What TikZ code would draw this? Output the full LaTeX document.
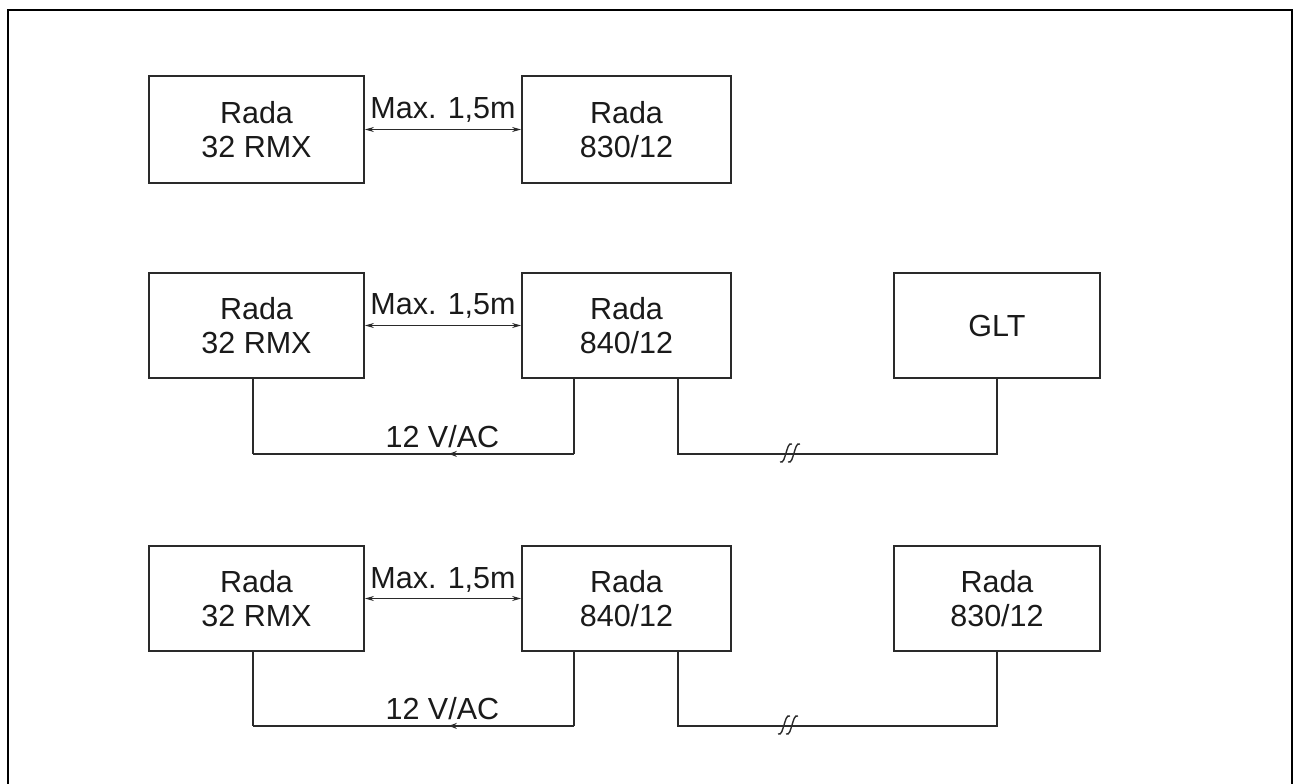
\documentclass[tikz,border=0pt]{standalone}
\usepackage{fontspec}
\setmainfont{Liberation Sans}
\usetikzlibrary{arrows.meta,decorations.markings,calc}
\definecolor{ink}{HTML}{2A2A2A}
\definecolor{txt}{HTML}{1A1A1A}
\begin{document}
\begin{tikzpicture}[x=1pt,y=-1pt,
  box/.style={draw=ink,line width=1.8pt,minimum width=#1,minimum height=105pt,inner sep=0pt,align=center,
    font=\fontsize{30.5}{34}\selectfont,text=txt},
  lab/.style={font=\fontsize{30.5}{34}\selectfont,text=txt,inner sep=0pt,anchor=base},
  dim/.style={{Stealth[length=9pt,width=5pt]}-{Stealth[length=9pt,width=5pt]},draw=ink,line width=1.1pt},
  wire/.style={draw=ink,line width=1.3pt},
  midarrow/.style={postaction=decorate,decoration={markings,mark=at position #1 with {\arrow{Stealth[length=8pt,width=6pt]}}}},
  brk/.pic={
    \draw[ink,line width=1.4pt] (-10,9) .. controls (-6.5,10.5) and (-5.5,4.5) .. (-4,0) .. controls (-2.5,-4.5) and (-1.5,-10.5) .. (2,-9);
    \draw[ink,line width=1.4pt] (-2,9) .. controls (1.5,10.5) and (2.5,4.5) .. (4,0) .. controls (5.5,-4.5) and (6.5,-10.5) .. (10,-9);
  }]
\path[use as bounding box] (0,0) rectangle (1298,784);
% frame
\draw[black,line width=2.5pt] (8,784) -- (8,10) -- (1292,10) -- (1292,784);

% row 1
\node[box=215pt,minimum height=107pt] (L1) at (256.5,129.5) {Rada\\32 RMX};
\node[box=209pt,minimum height=107pt] (M1) at (626.5,129.5) {Rada\\830/12};
\draw[dim] (L1.east) -- (M1.west);
\node[lab] (t1) at ($(L1.east)!0.5!(M1.west)+(0,-11)$) {Max. 1,5m};

% row 2
\node[box=215pt] (L2) at (256.5,325.5) {Rada\\32 RMX};
\node[box=209pt] (M2) at (626.5,325.5) {Rada\\840/12};
\node[box=206pt] (R2) at (997,325.5) {GLT};
\draw[dim] (L2.east) -- (M2.west);
\node[lab] (t2) at ($(L2.east)!0.5!(M2.west)+(0,-11)$) {Max. 1,5m};
\coordinate (a2) at ($(L2.south)+(-3.5,75)$);
\coordinate (b2) at ($(M2.south)+(-52.5,75)$);
\draw[wire] ([xshift=-3.5pt]L2.south) -- (a2);
\draw[wire] ([xshift=-52.5pt]M2.south) -- (b2);
\draw[wire,midarrow=0.39] (b2) -- (a2);
\node[lab] (v2) at ($(a2)!0.59!(b2)+(0,-6)$) {12 V/AC};
\coordinate (c2) at ($(M2.south)+(51.5,75)$);
\draw[wire] ([xshift=51.5pt]M2.south) -- (c2) -| (R2.south);
\pic at (790,453) {brk};

% row 3
\node[box=215pt] (L3) at (256.5,598.5) {Rada\\32 RMX};
\node[box=209pt] (M3) at (626.5,598.5) {Rada\\840/12};
\node[box=206pt] (R3) at (997,598.5) {Rada\\830/12};
\draw[dim] (L3.east) -- (M3.west);
\node[lab] (t3) at ($(L3.east)!0.5!(M3.west)+(0,-10)$) {Max. 1,5m};
\coordinate (a3) at ($(L3.south)+(-3.5,74)$);
\coordinate (b3) at ($(M3.south)+(-52.5,74)$);
\draw[wire] ([xshift=-3.5pt]L3.south) -- (a3);
\draw[wire] ([xshift=-52.5pt]M3.south) -- (b3);
\draw[wire,midarrow=0.39] (b3) -- (a3);
\node[lab] (v3) at ($(a3)!0.59!(b3)+(0,-6)$) {12 V/AC};
\coordinate (c3) at ($(M3.south)+(51.5,74)$);
\draw[wire] ([xshift=51.5pt]M3.south) -- (c3) -| (R3.south);
\pic at (788,725) {brk};
\end{tikzpicture}
\end{document}
